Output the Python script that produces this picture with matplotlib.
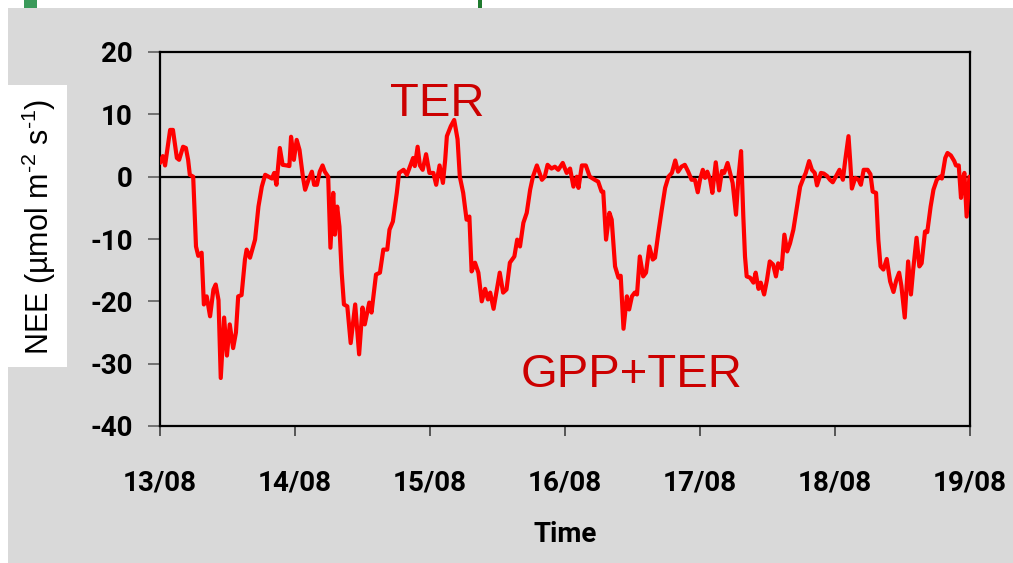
import matplotlib
matplotlib.use("Agg")
import matplotlib.pyplot as plt
from matplotlib.patches import Rectangle
import numpy as np

# ---- data ----
hours = [0.0, 0.5, 0.9, 1.8, 2.3, 3.0, 3.4, 4.1, 4.6, 5.0, 5.3, 5.9, 6.4, 6.8, 7.4, 7.8, 8.3, 8.9,
         9.5, 9.9, 10.4, 10.8, 11.4, 11.9, 12.4, 13.0, 13.5, 13.9, 14.5, 15.1, 15.4, 16.0, 16.9,
         17.5, 18.1, 18.7, 19.3, 19.9, 20.3, 20.7, 21.3, 21.8, 22.5, 23.0, 23.3, 23.8, 24.3, 24.8,
         25.4, 25.8, 26.4, 27.0, 27.4, 27.9, 28.4, 28.9, 29.3, 29.9, 30.3, 30.8, 31.1, 31.5, 31.9,
         32.3, 32.7, 33.3, 33.9, 34.7, 35.4, 36.0, 36.4, 37.2, 37.6, 38.4, 39.1, 39.7, 40.4, 40.8,
         41.4, 42.1, 42.5, 43.3, 43.9, 45.0, 45.3, 45.8, 46.2, 46.7, 47.3, 47.9, 48.6, 49.1, 49.7,
         50.3, 50.7, 51.0, 51.7, 52.3, 52.9, 53.3, 53.9, 54.5, 55.0, 55.4, 56.0, 56.6, 57.2, 57.8,
         58.3, 58.7, 59.3, 59.9, 60.4, 61.0, 61.6, 62.2, 63.0, 63.5, 64.0, 64.6, 65.2, 65.8, 66.3,
         67.0, 67.9, 68.4, 68.9, 69.6, 70.2, 70.8, 71.6, 72.3, 72.9, 73.5, 74.1, 74.4, 75.0, 75.7,
         76.4, 77.3, 77.9, 78.5, 78.8, 79.3, 79.9, 80.3, 80.9, 81.5, 81.9, 82.4, 83.0, 83.4, 83.9,
         84.4, 84.8, 85.3, 85.9, 86.4, 87.0, 87.6, 88.0, 88.6, 89.2, 89.8, 90.4, 91.0, 91.6, 92.1,
         92.7, 93.3, 93.9, 94.5, 95.1, 95.6, 96.0, 96.5, 96.9, 97.3, 97.8, 98.2, 98.8, 99.4, 99.9,
         100.3, 100.9, 101.3, 101.8, 102.4, 102.8, 103.3, 103.7, 104.0, 104.3, 104.9, 105.5, 105.9,
         106.4, 106.8, 107.4, 107.9, 108.4, 109.0, 109.5, 109.9, 110.5, 111.0, 111.5, 112.0, 112.6,
         113.2, 113.8, 114.4, 114.8, 115.4, 115.9, 116.4, 116.8, 117.5, 118.0, 118.6, 119.1, 119.6,
         120.2, 120.8, 121.4, 121.8, 122.4, 122.7, 123.0, 123.6, 124.2, 124.6, 125.1, 125.8, 126.3,
         126.7, 127.3, 127.7, 128.1, 128.6, 129.2, 129.8, 130.4, 130.9, 131.4, 131.8, 132.4, 133.0,
         133.5, 133.9, 134.5, 135.0, 135.4, 136.0, 136.4, 137.0, 137.5, 138.1, 138.7, 139.0, 139.6,
         140.0, 140.6, 141.2, 141.5, 142.0, 142.4, 142.7, 143.0, 143.4, 143.9]
nee = [2.2, 3.3, 1.8, 7.5, 7.5, 3.0, 2.7, 4.8, 4.6, 2.7, 0.3, 0.0, -11.2, -12.7, -12.2, -20.5, -19.2,
       -22.4, -18.1, -17.3, -19.8, -32.3, -22.6, -28.7, -23.7, -27.5, -25.0, -19.2, -19.0, -13.3,
       -11.7, -13.0, -10.1, -4.8, -1.6, 0.3, 0.0, -0.3, 0.6, -1.3, 4.6, 1.9, 1.8, 1.7, 6.4, 2.7, 5.9,
       4.3, 0.0, -2.1, -0.5, 0.8, -1.3, -1.3, 0.8, 1.8, 0.8, 0.0, -11.4, -2.6, -9.3, -4.8, -8.0,
       -15.4, -20.5, -20.8, -26.7, -20.5, -28.5, -21.0, -23.7, -20.2, -21.8, -15.7, -15.4, -11.7,
       -11.7, -8.5, -7.2, -2.6, 0.6, 1.1, 0.3, 3.0, 1.7, 4.8, 1.8, 1.1, 3.6, 0.6, 0.6, -1.3, 1.8,
       -1.0, 2.7, 6.5, 8.1, 9.1, 6.0, 0.0, -2.6, -6.9, -6.4, -15.2, -13.8, -15.4, -20.0, -18.0,
       -19.7, -18.6, -21.2, -18.0, -15.4, -18.6, -18.1, -13.8, -12.8, -10.1, -11.2, -7.4, -5.8,
       -2.1, 0.0, 1.8, -0.5, 0.0, 1.9, 1.3, 1.6, 1.1, 2.2, 0.6, 1.3, -1.6, 0.0, -1.8, 1.8, 1.8,
       0.0, -0.5, -0.8, -2.4, -2.4, -10.1, -5.8, -6.9, -14.4, -16.2, -15.9, -24.4, -19.2, -21.3,
       -19.2, -18.6, -18.9, -12.8, -16.0, -15.4, -11.2, -13.3, -13.0, -9.0, -5.3, -1.8, 0.0, 0.6,
       2.6, 0.8, 1.6, 1.9, 0.8, -0.5, -0.5, -2.5, -0.5, 1.1, -0.2, 0.8, -0.5, -2.6, 2.3, -2.2, 0.9,
       0.6, 2.2, 0.8, -1.0, -6.1, -0.5, 4.1, -6.4, -12.8, -16.0, -16.2, -17.0, -15.4, -18.0, -17.0,
       -18.9, -16.6, -13.6, -14.1, -16.0, -13.9, -14.8, -9.3, -12.0, -10.7, -8.5, -5.0, -1.6, -0.2,
       0.6, 2.5, 1.1, 0.6, -1.4, 0.6, 0.5, 0.1, -0.5, -0.9, 0.1, 1.1, -0.5, 2.5, 6.5, 2.5, -1.9,
       -0.2, -0.5, -1.3, 1.1, 1.1, 0.4, -2.4, -2.6, -10.1, -14.4, -14.9, -13.2, -16.8, -18.5, -16.6,
       -15.4, -17.5, -22.6, -13.6, -18.9, -14.9, -9.8, -14.4, -13.9, -8.8, -8.9, -4.8, -2.1, -0.5,
       0.0, -0.3, 3.0, 3.8, 3.4, 2.5, 1.8, 1.8, -3.4, -0.5, 0.6, -6.4, 0.0]
day_labels = ["13/08", "14/08", "15/08", "16/08", "17/08", "18/08", "19/08"]
y_ticks = [20, 10, 0, -10, -20, -30, -40]

plt.rcParams["mathtext.fontset"] = "custom"
plt.rcParams["mathtext.rm"] = "Liberation Sans"
plt.rcParams["mathtext.it"] = "Liberation Sans"
plt.rcParams["mathtext.default"] = "regular"

W, H = 1013, 563
fig = plt.figure(figsize=(W / 100, H / 100), dpi=100)
fig.patch.set_facecolor("white")

# background panel
fig.patches.append(Rectangle((8 / W, 0), 1 - 8 / W, 1 - 8 / H, transform=fig.transFigure,
                             facecolor="#d9d9d9", edgecolor="none", zorder=-10))
# green decorations at the top
fig.patches.append(Rectangle((478 / W, 1 - 8 / H), 4 / W, 8 / H, transform=fig.transFigure,
                             facecolor="#1f7a2e", edgecolor="none", zorder=-9))
fig.patches.append(Rectangle((24 / W, 1 - 8 / H), 13 / W, 8 / H, transform=fig.transFigure,
                             facecolor="#3a9a5a", edgecolor="none", zorder=-9))
# white box behind y-label
fig.patches.append(Rectangle((8 / W, 1 - 367 / H), 59 / W, 282 / H, transform=fig.transFigure,
                             facecolor="white", edgecolor="none", zorder=-8))

ax = fig.add_axes([160 / W, 1 - 426 / H, 810 / W, 374 / H])
ax.set_zorder(1)
ax.set_facecolor("none")

days = np.array(hours) / 24.0
ax.plot(days, nee, color="#ff0000", lw=3.0, solid_joinstyle="round", solid_capstyle="round",
        zorder=3)
ax.axhline(0, color="black", lw=1.6, zorder=2)

ax.set_xlim(0, 6)
ax.set_ylim(-40, 20)
ax.set_xticks(range(len(day_labels)))
ax.set_xticklabels(day_labels)
ax.set_yticks(y_ticks)
ax.set_yticklabels([str(v) for v in y_ticks])

for sp in ax.spines.values():
    sp.set_color("black")
    sp.set_linewidth(1.6)

for lab in ax.get_xticklabels() + ax.get_yticklabels():
    lab.set_fontfamily("Roboto")
    lab.set_fontweight("bold")
    lab.set_fontsize(20)
ax.tick_params(axis="x", direction="out", length=7, width=1.1, color="#333333", pad=24)
ax.tick_params(axis="y", direction="out", length=8.5, width=1.1, color="#555555", pad=11)

ax.set_xlabel("Time", fontfamily="Roboto", fontweight="bold", fontsize=20, labelpad=18)

# annotations
ax.text(2.05, 9.8, "TER", color="#cc0000", fontsize=34, family="Liberation Sans",
        ha="center", va="baseline", zorder=4)
ax.text(3.49, -33.8, "GPP+TER", color="#cc0000", fontsize=34, family="Liberation Sans",
        ha="center", va="baseline", zorder=4)

fig.text(39 / W, 1 - 227 / H, "NEE (µmol m$^{\u20102}$ s$^{\u20101}$)", rotation=90,
         ha="center", va="center", fontsize=22, family="Liberation Sans", color="black",
         zorder=2)

fig.savefig("out.png", dpi=100)
